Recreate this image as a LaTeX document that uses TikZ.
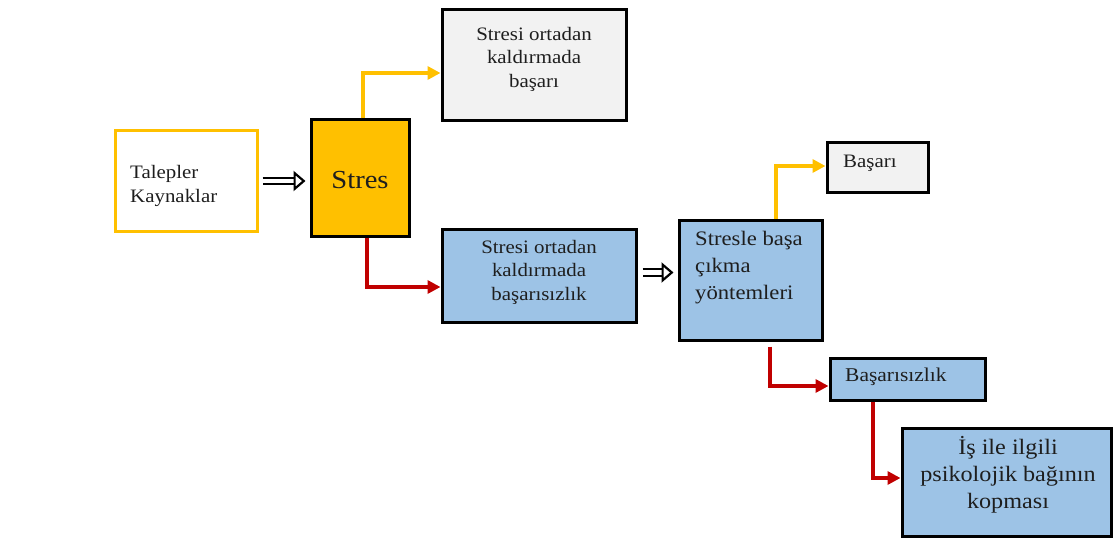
\documentclass[tikz,border=0pt]{standalone}
\usepackage{fontspec}
\setmainfont{Liberation Serif}[FakeStretch=1.1]
\usetikzlibrary{arrows.meta}

\definecolor{stresyellow}{HTML}{FFC000}
\definecolor{boxblue}{HTML}{9DC3E6}
\definecolor{boxgray}{HTML}{F2F2F2}
\definecolor{failred}{HTML}{C00000}
\definecolor{inkgray}{HTML}{1E1E1E}

\tikzset{
  box/.style={draw=black, line width=3pt, inner sep=0pt},
  txt/.style={text=inkgray, inner sep=0pt, font=\fontsize{19}{23.5}\selectfont},
  okline/.style={draw=stresyellow, line width=3.6pt, -{Triangle[length=13pt,width=13pt]}},
  failline/.style={draw=failred, line width=3.6pt, -{Triangle[length=13pt,width=13pt]}},
  hollow/.style={double=white, double distance=4.5pt, line width=2.2pt,
    -{Triangle[open, fill=white, length=12pt, width=20pt, line width=2.2pt]}},
}

\begin{document}
\begin{tikzpicture}[x=1pt,y=-1pt]
\useasboundingbox (0,0) rectangle (1113,540);

% Boxes
\node[box, draw=stresyellow, fill=white, minimum width=142pt, minimum height=100pt] (tal) at (186,181) {};
\node[box, fill=stresyellow, minimum width=98pt, minimum height=116pt] (stres) at (360,178) {};
\node[box, fill=boxgray, minimum width=184pt, minimum height=111pt] (ok) at (534,65.5) {};
\node[box, fill=boxblue, minimum width=194pt, minimum height=93pt] (fail) at (539,275.5) {};
\node[box, fill=boxblue, minimum width=143pt, minimum height=120pt] (cope) at (750.5,280) {};
\node[box, fill=boxgray, minimum width=101pt, minimum height=50pt] (basari) at (877.5,168) {};
\node[box, fill=boxblue, minimum width=155pt, minimum height=42pt] (basarisiz) at (907.5,379) {};
\node[box, fill=boxblue, minimum width=209pt, minimum height=108pt] (kopma) at (1006.5,482) {};

% Texts
\node[txt, anchor=west, align=left] (talt) at (130,186) {Talepler\\Kaynaklar};
\node[txt, font=\fontsize{26}{30}\selectfont] (strest) at (360,180) {Stres};
\node[txt, align=center] (okt) at (534,59) {Stresi ortadan\\kaldırmada\\başarı};
\node[txt, align=center] (failt) at (539,272) {Stresi ortadan\\kaldırmada\\başarısızlık};
\node[txt, anchor=west, align=left, font=\fontsize{20.6}{27}\selectfont] (copet) at (695,268) {Stresle başa\\çıkma\\yöntemleri};
\node[txt, anchor=west] (basarit) at (843,163) {Başarı};
\node[txt, anchor=west, font=\fontsize{19.5}{24}\selectfont] (basarisizt) at (845,377) {Başarısızlık};
\node[txt, align=center, font=\fontsize{22}{27}\selectfont] (kopmat) at (1008,475) {İş ile ilgili\\psikolojik bağının\\kopması};

% Hollow arrows
\draw[hollow] ([xshift=4pt]tal.east) -- ([xshift=-4pt]tal.east -| stres.west);
\draw[hollow] ([xshift=5pt,yshift=3pt]fail.east) -- ([xshift=-4pt,yshift=3pt]fail.east -| cope.west);

% Outcome arrows
\draw[okline] ([xshift=3pt]stres.north) |- ([yshift=-7.5pt]ok.west);
\draw[failline] ([xshift=7pt]stres.south) |- ([yshift=-11.5pt]fail.west);
\draw[okline] ([xshift=25.5pt]cope.north) |- ([yshift=2pt]basari.west);
\draw[failline] ([xshift=19.5pt,yshift=-5pt]cope.south) |- ([yshift=-7pt]basarisiz.west);
\draw[failline] ([xshift=-34.5pt]basarisiz.south) |- ([yshift=4pt]kopma.west);
\end{tikzpicture}
\end{document}
